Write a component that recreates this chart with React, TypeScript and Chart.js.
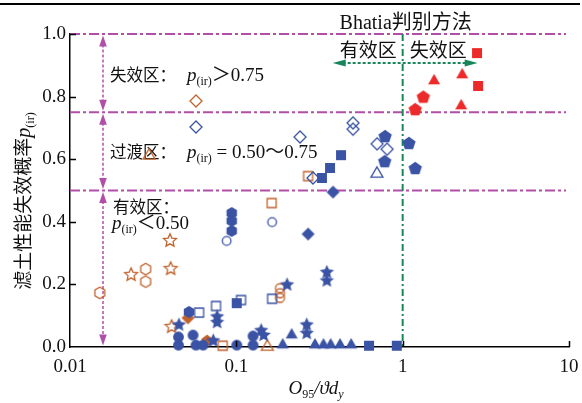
import React, { useEffect, useRef } from 'react';
import { Chart, registerables } from 'chart.js';

Chart.register(...registerables);

const BLUE = '#3a53a4';
const ORANGE = '#c1622c';
const RED = '#ec2a2a';
const PURPLE = '#b14fa8';
const GREEN = '#17875a';
const INK = '#111111';

type Pt = [number, number];

// x: O95/(ϑ·dy), y: p(ir)
const redSquare: Pt[] = [[2.8, 0.939], [2.84, 0.834]];
const redTriangle: Pt[] = [[1.545, 0.856], [2.28, 0.875], [2.25, 0.776]];
const redPentagon: Pt[] = [[1.33, 0.8], [1.19, 0.76]];

const blueCircle: Pt[] = [[0.0449, 0.032], [0.0449, 0.006], [0.0549, 0.038], [0.0572, 0.006], [0.0631, 0.006], [0.1006, 0.006], [0.126, 0.035], [0.126, 0.006]];
const blueSquare: Pt[] = [[0.426, 0.613], [0.366, 0.572], [0.327, 0.54], [0.1005, 0.14], [0.628, 0.004], [0.922, 0.004]];
const blueDiamond: Pt[] = [[0.3815, 0.495], [0.27, 0.361]];
const blueTriangle: Pt[] = [[0.215, 0.044], [0.19, 0.012], [0.297, 0.012], [0.334, 0.012], [0.369, 0.012], [0.42, 0.012], [0.49, 0.012]];
const bluePentagon: Pt[] = [[0.784, 0.674], [0.78, 0.594], [1.09, 0.652], [1.19, 0.572]];
const blueHexagon: Pt[] = [[0.0938, 0.428], [0.0938, 0.403], [0.0938, 0.371], [0.0519, 0.112]];
const blueStar: Pt[] = [[0.0452, 0.073], [0.0766, 0.099], [0.0766, 0.081], [0.0727, 0.022], [0.202, 0.201], [0.141, 0.055], [0.146, 0.04], [0.35, 0.241], [0.35, 0.214], [0.265, 0.073], [0.265, 0.046]];

const blueCircleOpen: Pt[] = [[0.0875, 0.339], [0.164, 0.399]];
const blueSquareOpen: Pt[] = [[0.0597, 0.11], [0.0755, 0.131], [0.1067, 0.15], [0.164, 0.154]];
const blueDiamondOpen: Pt[] = [[0.0572, 0.703], [0.503, 0.716], [0.503, 0.696], [0.2415, 0.671], [0.702, 0.649], [0.806, 0.632], [0.289, 0.54]];
const blueTriangleOpen: Pt[] = [[0.7, 0.559]];

const orangeDiamond: Pt[] = [[0.0512, 0.093]];
const orangePentagon: Pt[] = [[0.0667, 0.022]];

const orangeHexagonOpen: Pt[] = [[0.0151, 0.173], [0.0285, 0.249], [0.0285, 0.209]];
const orangeStarOpen: Pt[] = [[0.0233, 0.233], [0.0399, 0.342], [0.0403, 0.252], [0.0408, 0.067]];
const orangeDiamondOpen: Pt[] = [[0.0572, 0.786]];
const orangeTriangleOpen: Pt[] = [[0.0299, 0.617], [0.1536, 0.006]];
const orangeSquareOpen: Pt[] = [[0.27, 0.546], [0.163, 0.46], [0.0828, 0.004]];
const orangeCircleOpen: Pt[] = [[0.183, 0.188], [0.183, 0.172], [0.183, 0.157]];

const xTickValues = [0.01, 0.1, 1, 10];
const xTickLabels = ['0.01', '0.1', '1', '10'];
const yTickValues = [0, 0.2, 0.4, 0.6, 0.8, 1.0];
const yTickLabels = ['0.0', '0.2', '0.4', '0.6', '0.8', '1.0'];
const zoneBounds = [1.0, 0.75, 0.5];
const bhatiaBoundary = 1;

type Shape = 'circle' | 'square' | 'diamond' | 'triangle' | 'pentagon' | 'hexagon' | 'star';

const font = (size: number, italic = false) =>
  `${italic ? 'italic ' : ''}${size}px "Liberation Serif", "DejaVu Serif", "Noto Sans CJK SC"`;

function polygon(ctx: CanvasRenderingContext2D, cx: number, cy: number, r: number, n: number, inner = 0) {
  const steps = inner ? n * 2 : n;
  for (let i = 0; i < steps; i++) {
    const a = -Math.PI / 2 + (i * 2 * Math.PI) / steps;
    const rr = inner && i % 2 === 1 ? r * inner : r;
    const px = cx + rr * Math.cos(a);
    const py = cy + rr * Math.sin(a);
    if (i === 0) ctx.moveTo(px, py);
    else ctx.lineTo(px, py);
  }
  ctx.closePath();
}

function makeMarker(shape: Shape, color: string, filled: boolean, r: number): HTMLCanvasElement {
  const pad = 3;
  const dim = Math.ceil(2 * r + pad * 2);
  const c = document.createElement('canvas');
  c.width = dim;
  c.height = dim;
  const ctx = c.getContext('2d')!;
  const cx = dim / 2;
  const cy = dim / 2;
  ctx.beginPath();
  switch (shape) {
    case 'circle':
      ctx.arc(cx, cy, r, 0, Math.PI * 2);
      break;
    case 'square':
      ctx.rect(cx - r, cy - r, 2 * r, 2 * r);
      break;
    case 'diamond':
      ctx.moveTo(cx, cy - r);
      ctx.lineTo(cx + r, cy);
      ctx.lineTo(cx, cy + r);
      ctx.lineTo(cx - r, cy);
      ctx.closePath();
      break;
    case 'triangle': {
      const h = 2 * r * 0.866;
      ctx.moveTo(cx, cy - h / 2);
      ctx.lineTo(cx + r, cy + h / 2);
      ctx.lineTo(cx - r, cy + h / 2);
      ctx.closePath();
      break;
    }
    case 'pentagon':
      polygon(ctx, cx, cy + 0.095 * r, r, 5);
      break;
    case 'hexagon':
      polygon(ctx, cx, cy, r, 6);
      break;
    case 'star':
      polygon(ctx, cx, cy + 0.095 * r, r, 5, 0.47);
      break;
  }
  if (filled) {
    ctx.fillStyle = color;
    ctx.fill();
  } else {
    ctx.strokeStyle = color;
    ctx.lineWidth = 1.3;
    ctx.stroke();
  }
  return c;
}

type Spec = [Pt[], Shape, string, boolean, number];

// earlier entries are painted on top
const markerSpecs: Spec[] = [
  [redSquare, 'square', RED, true, 5],
  [redTriangle, 'triangle', RED, true, 6],
  [redPentagon, 'pentagon', RED, true, 7],
  [blueCircle, 'circle', BLUE, true, 5.4],
  [blueSquare, 'square', BLUE, true, 5],
  [blueDiamond, 'diamond', BLUE, true, 6.5],
  [blueTriangle, 'triangle', BLUE, true, 6],
  [bluePentagon, 'pentagon', BLUE, true, 7],
  [blueHexagon, 'hexagon', BLUE, true, 6],
  [blueStar, 'star', BLUE, true, 7.5],
  [blueCircleOpen, 'circle', BLUE, false, 4.3],
  [blueSquareOpen, 'square', BLUE, false, 4.5],
  [blueDiamondOpen, 'diamond', BLUE, false, 6],
  [blueTriangleOpen, 'triangle', BLUE, false, 6],
  [orangeDiamond, 'diamond', ORANGE, true, 6.5],
  [orangePentagon, 'pentagon', ORANGE, true, 6],
  [orangeHexagonOpen, 'hexagon', ORANGE, false, 5.7],
  [orangeStarOpen, 'star', ORANGE, false, 6.8],
  [orangeDiamondOpen, 'diamond', ORANGE, false, 6],
  [orangeTriangleOpen, 'triangle', ORANGE, false, 6],
  [orangeSquareOpen, 'square', ORANGE, false, 4.5],
  [orangeCircleOpen, 'circle', ORANGE, false, 4.5],
];

type Seg = { text: string; font: string; dy?: number };

function drawRich(ctx: CanvasRenderingContext2D, x: number, y: number, segs: Seg[], align: 'left' | 'center' = 'left') {
  let w = 0;
  for (const s of segs) {
    ctx.font = s.font;
    w += ctx.measureText(s.text).width;
  }
  let cx = align === 'center' ? x - w / 2 : x;
  ctx.textAlign = 'left';
  ctx.textBaseline = 'alphabetic';
  for (const s of segs) {
    ctx.font = s.font;
    ctx.fillText(s.text, cx, y + (s.dy ?? 0));
    cx += ctx.measureText(s.text).width;
  }
}

function arrowHead(ctx: CanvasRenderingContext2D, tx: number, ty: number, dx: number, dy: number, len: number, half: number) {
  const bx = tx - dx * len;
  const by = ty - dy * len;
  ctx.beginPath();
  ctx.moveTo(tx, ty);
  ctx.lineTo(bx - dy * half, by + dx * half);
  ctx.lineTo(bx + dy * half, by - dx * half);
  ctx.closePath();
  ctx.fill();
}

const overlay = {
  id: 'overlay',
  beforeDatasetsDraw(chart: any) {
    const { ctx, chartArea, scales } = chart;
    const xs = scales.x;
    const ys = scales.y;
    ctx.save();

    // zone boundaries
    ctx.strokeStyle = PURPLE;
    ctx.lineWidth = 2;
    ctx.setLineDash([10, 3, 3, 3]);
    for (const v of zoneBounds) {
      const py = ys.getPixelForValue(v);
      ctx.beginPath();
      ctx.moveTo(chartArea.left, py);
      ctx.lineTo(chartArea.right - 3, py);
      ctx.stroke();
    }

    // zone extent arrows
    const ax = chartArea.left + 33;
    const spans: [number, number][] = [[1.0, 0.75], [0.75, 0.5], [0.5, 0]];
    ctx.fillStyle = PURPLE;
    for (const [a, b] of spans) {
      const yt = ys.getPixelForValue(a) + 1.5;
      const yb = ys.getPixelForValue(b) - 1.5;
      ctx.setLineDash([3, 2]);
      ctx.lineWidth = 1.5;
      ctx.beginPath();
      ctx.moveTo(ax, yt + 9);
      ctx.lineTo(ax, yb - 9);
      ctx.stroke();
      ctx.setLineDash([]);
      arrowHead(ctx, ax, yt, 0, -1, 11, 3.8);
      arrowHead(ctx, ax, yb, 0, 1, 11, 3.8);
    }

    // Bhatia boundary
    const gx = xs.getPixelForValue(bhatiaBoundary);
    ctx.strokeStyle = GREEN;
    ctx.lineWidth = 2;
    ctx.setLineDash([7, 3, 2, 3]);
    ctx.beginPath();
    ctx.moveTo(gx, chartArea.top);
    ctx.lineTo(gx, chartArea.bottom);
    ctx.stroke();

    const gy = chartArea.top + 29;
    const gl = gx - 70;
    const gr = gx + 75;
    ctx.setLineDash([3, 2]);
    ctx.beginPath();
    ctx.moveTo(gl + 10, gy);
    ctx.lineTo(gr - 10, gy);
    ctx.stroke();
    ctx.setLineDash([]);
    ctx.fillStyle = GREEN;
    arrowHead(ctx, gl, gy, -1, 0, 13, 3.5);
    arrowHead(ctx, gr, gy, 1, 0, 13, 3.5);

    // labels
    ctx.fillStyle = INK;
    drawRich(ctx, gx + 3, 29, [{ text: 'Bhatia判别方法', font: font(20) }], 'center');
    ctx.font = font(19);
    ctx.textAlign = 'right';
    ctx.fillText('有效区', gx - 6, 57);
    ctx.textAlign = 'left';
    ctx.fillText('失效区', gx + 7, 57);

    const cn = font(16.5);
    const it = font(19, true);
    const sub = font(12);
    const rm = font(19);
    drawRich(ctx, 110, 81, [{ text: '失效区：', font: cn }]);
    drawRich(ctx, 187, 81, [
      { text: 'p', font: it },
      { text: '(ir)', font: sub, dy: 4 },
      { text: '＞0.75', font: rm },
    ]);
    drawRich(ctx, 110, 158, [{ text: '过渡区：', font: cn }]);
    drawRich(ctx, 187, 158, [
      { text: 'p', font: it },
      { text: '(ir)', font: sub, dy: 4 },
      { text: ' = 0.50～0.75', font: rm },
    ]);
    drawRich(ctx, 113, 213, [{ text: '有效区：', font: cn }]);
    drawRich(ctx, 112, 229, [
      { text: 'p', font: it },
      { text: '(ir)', font: sub, dy: 4 },
      { text: '＜0.50', font: rm },
    ]);
    ctx.restore();
  },
  afterDraw(chart: any) {
    const { ctx, chartArea, scales } = chart;
    const xs = scales.x;
    const ys = scales.y;
    ctx.save();
    ctx.strokeStyle = '#000';
    ctx.lineWidth = 1.5;
    ctx.setLineDash([]);
    // inward tick marks
    ctx.beginPath();
    for (const v of xTickValues.slice(1)) {
      const px = Math.round(xs.getPixelForValue(v)) + 0.5;
      ctx.moveTo(px, chartArea.bottom);
      ctx.lineTo(px, chartArea.bottom - 6);
    }
    for (const v of yTickValues.slice(1)) {
      const py = Math.round(ys.getPixelForValue(v)) + 0.5;
      ctx.moveTo(chartArea.left, py);
      ctx.lineTo(chartArea.left + 6, py);
    }
    ctx.stroke();

    // axis titles
    ctx.fillStyle = INK;
    drawRich(ctx, 316, 394, [
      { text: 'O', font: font(19, true) },
      { text: '95', font: font(12), dy: 4 },
      { text: '/', font: font(19, true) },
      { text: 'ϑ', font: font(19, true) },
      { text: 'd', font: font(19, true) },
      { text: 'y', font: font(12, true), dy: 4 },
    ], 'center');

    ctx.save();
    ctx.translate(30, 201);
    ctx.rotate(-Math.PI / 2);
    drawRich(ctx, 0, 0, [
      { text: '滤土性能失效概率', font: font(19) },
      { text: 'p', font: font(20, true) },
      { text: '(ir)', font: font(12), dy: 4 },
    ], 'center');
    ctx.restore();

    // page rule
    ctx.fillStyle = '#000';
    ctx.fillRect(0, 3, 580, 2);
    ctx.restore();
  },
};

export default function App() {
  const ref = useRef<HTMLCanvasElement>(null);

  useEffect(() => {
    document.body.style.margin = '0';
    const canvas = ref.current!;
    const datasets = markerSpecs.map(([pts, shape, color, filled, r]) => ({
      data: pts.map(([x, y]) => ({ x, y })),
      pointStyle: makeMarker(shape, color, filled, r) as any,
      pointRadius: r,
      pointHoverRadius: r,
      showLine: false,
      clip: false as any,
    }));

    const chart = new Chart(canvas, {
      type: 'scatter',
      data: { datasets },
      options: {
        animation: false,
        responsive: false,
        maintainAspectRatio: false,
        events: [],
        layout: { padding: { top: 34, right: 13, left: 0, bottom: 0 } },
        plugins: { legend: { display: false }, tooltip: { enabled: false } },
        scales: {
          x: {
            type: 'logarithmic',
            min: 0.01,
            max: 10,
            afterBuildTicks: (s: any) => {
              s.ticks = xTickValues.map((value) => ({ value }));
            },
            afterFit: (s: any) => {
              s.height = 56;
            },
            ticks: {
              autoSkip: false,
              maxRotation: 0,
              padding: 0,
              color: INK,
              font: { family: '"Liberation Serif", "DejaVu Serif"', size: 19, lineHeight: 2.15 },
              callback: (_v: any, i: number) => xTickLabels[i],
            },
            grid: { display: false, drawTicks: false },
            border: { display: true, color: '#000', width: 1.5 },
          },
          y: {
            type: 'linear',
            min: 0,
            max: 1,
            afterBuildTicks: (s: any) => {
              s.ticks = yTickValues.map((value) => ({ value }));
            },
            afterFit: (s: any) => {
              s.width = 70;
            },
            ticks: {
              autoSkip: false,
              padding: 4,
              color: INK,
              font: { family: '"Liberation Serif", "DejaVu Serif"', size: 19 },
              callback: (_v: any, i: number) => yTickLabels[i],
            },
            grid: { display: false, drawTicks: false },
            border: { display: true, color: '#000', width: 1.5 },
          },
        },
      },
      plugins: [overlay],
    });
    return () => chart.destroy();
  }, []);

  return (
    <div style={{ position: 'absolute', left: 0, top: 0, width: 582, height: 403 }}>
      <canvas ref={ref} width={582} height={403} style={{ display: 'block', width: 582, height: 403 }} />
    </div>
  );
}
